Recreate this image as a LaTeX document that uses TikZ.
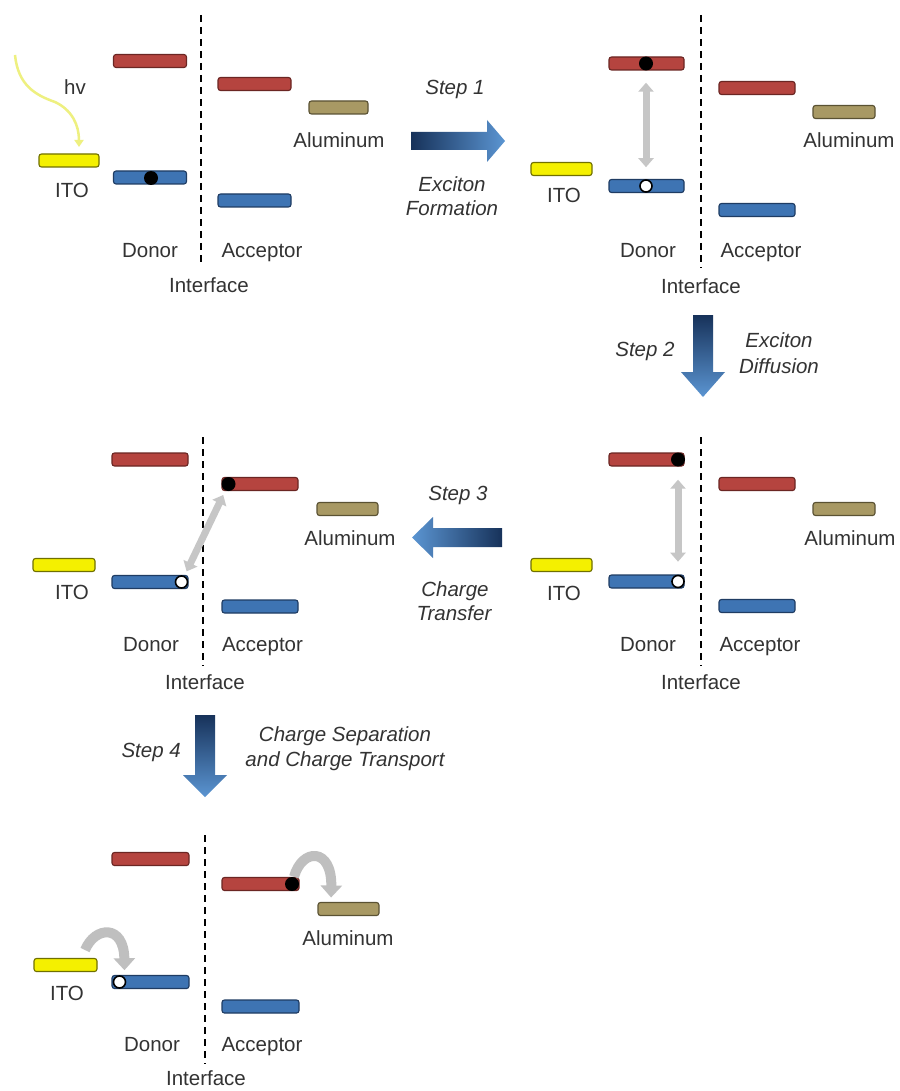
\documentclass[tikz,border=0pt]{standalone}
\usepackage{fontspec}
\setmainfont{Liberation Sans}
\usetikzlibrary{arrows.meta}
\definecolor{lumoF}{HTML}{B5443F}
\definecolor{lumoD}{HTML}{6B2623}
\definecolor{homoF}{HTML}{3E74B3}
\definecolor{homoD}{HTML}{1F3C63}
\definecolor{aluF}{HTML}{A89964}
\definecolor{aluD}{HTML}{5A5233}
\definecolor{itoF}{HTML}{F4F000}
\definecolor{itoD}{HTML}{707000}
\definecolor{txt}{HTML}{333333}
\definecolor{arrDark}{HTML}{17325A}
\definecolor{arrLight}{HTML}{5B95D2}
\definecolor{hvC}{HTML}{EEF080}
\begin{document}
\begin{tikzpicture}[x=1pt,y=-1pt,
 bar/.style={draw, rounded corners=2.5pt, line width=1.1pt, minimum height=13pt, inner sep=0pt, outer sep=0pt},
 lumo/.style={bar, fill=lumoF, draw=lumoD},
 homo/.style={bar, fill=homoF, draw=homoD},
 alu/.style={bar, fill=aluF, draw=aluD},
 ito/.style={bar, fill=itoF, draw=itoD},
 lbl/.style={anchor=base, inner sep=0pt, text=txt, font=\fontsize{20.5}{24}\selectfont},
 steplbl/.style={anchor=base, inner sep=0pt, text=txt, font=\fontsize{20.5}{24}\selectfont\itshape},
 electron/.style={circle, fill=black, minimum size=14pt, inner sep=0pt},
 hole/.style={circle, fill=white, draw=black, line width=1.6pt, minimum size=12pt, inner sep=0pt},
 iface/.style={draw=black, line width=2.2pt, dash pattern=on 7pt off 5pt},
 dbl/.style={draw=gray!45, line width=7pt, {Triangle[width=15pt,length=9pt]}-{Triangle[width=15pt,length=9pt]}},
 curv/.style={draw=gray!50, line width=10pt, -{Triangle[width=21pt,length=12pt]}},
 hvarrow/.style={draw=hvC, line width=2.5pt, -{Triangle[width=9pt,length=7pt]}}
]
\fill[white] (0,0) rectangle (899,1091);
\useasboundingbox (0,0) rectangle (899,1091);

%% ---------------- Panel 1 ----------------
\coordinate (p1it) at (201,15); \coordinate (p1ib) at (201,262);
\draw[iface] (p1it) -- (p1ib);
\node[lumo, minimum width=73pt] (p1dl) at (150,61) {};
\node[lumo, minimum width=73pt] (p1al) at (254.5,84) {};
\node[alu, minimum width=59pt] (p1alu) at (338.5,107.5) {};
\node[ito, minimum width=60pt] (p1ito) at (69,160.5) {};
\node[homo, minimum width=73pt] (p1dh) at (150,177.5) {};
\node[homo, minimum width=73pt] (p1ah) at (254.5,200.5) {};
\node[electron] (p1e) at (151,178) {};
\node[lbl] (p1alut) at (339,148) {Aluminum};
\node[lbl] (p1itot) at (72,198) {ITO};
\node[lbl] (p1don) at (150,257) {Donor};
\node[lbl] (p1acc) at (262,257) {Acceptor};
\node[lbl] (p1int) at (209,292) {Interface};
\node[lbl] (hv) at (75,95) {hv};
\coordinate (hvs) at (15,55);
\draw[hvarrow, shorten >=7pt] (hvs) .. controls (18,85) and (35,95) .. (55,102) .. controls (72,110) and (79,125) .. (p1ito.north -| 79,0);

%% Step 1
\shade[left color=arrDark, right color=arrLight] (411,132) -- (487,132) -- (487,120) -- (505,141) -- (487,162) -- (487,150) -- (411,150) -- cycle;
\node[steplbl] (s1) at (455,95) {Step 1};
\node[steplbl] (s1a) at (452,192) {Exciton};
\node[steplbl] (s1b) at (452,216) {Formation};

%% ---------------- Panel 2 ----------------
\coordinate (p2it) at (701,15); \coordinate (p2ib) at (701,268);
\draw[iface] (p2it) -- (p2ib);
\node[lumo, minimum width=75pt] (p2dl) at (646.5,63.5) {};
\node[lumo, minimum width=76pt] (p2al) at (757,88) {};
\node[alu, minimum width=62pt] (p2alu) at (844,112) {};
\node[ito, minimum width=61pt] (p2ito) at (561.5,169) {};
\node[homo, minimum width=75pt] (p2dh) at (646.5,186) {};
\node[homo, minimum width=76pt] (p2ah) at (757,210) {};
\node[electron] (p2e) at (646,63.5) {};
\node[hole] (p2h) at (646,186) {};
\draw[dbl, shorten <=12pt, shorten >=12pt] (p2e) -- (p2h);
\node[lbl] (p2alut) at (849,148) {Aluminum};
\node[lbl] (p2itot) at (564,203) {ITO};
\node[lbl] (p2don) at (648,258) {Donor};
\node[lbl] (p2acc) at (761,258) {Acceptor};
\node[lbl] (p2int) at (701,293) {Interface};

%% Step 2
\shade[top color=arrDark, bottom color=arrLight] (693,315) -- (713,315) -- (713,372) -- (725,372) -- (703,397) -- (681,372) -- (693,372) -- cycle;
\node[steplbl] (s2) at (645,356) {Step 2};
\node[steplbl] (s2a) at (779,347) {Exciton};
\node[steplbl] (s2b) at (779,373) {Diffusion};

%% ---------------- Panel 4 (middle right) ----------------
\coordinate (p4it) at (701,437); \coordinate (p4ib) at (701,666);
\draw[iface] (p4it) -- (p4ib);
\node[lumo, minimum width=75pt] (p4dl) at (646.5,459.5) {};
\node[lumo, minimum width=76pt] (p4al) at (757,484) {};
\node[alu, minimum width=62pt] (p4alu) at (844,509) {};
\node[ito, minimum width=61pt] (p4ito) at (561.5,565) {};
\node[homo, minimum width=75pt] (p4dh) at (646.5,581.5) {};
\node[homo, minimum width=76pt] (p4ah) at (757,606) {};
\node[electron] (p4e) at (678,459.5) {};
\node[hole] (p4h) at (678,581.5) {};
\draw[dbl, shorten <=13pt, shorten >=13pt] (p4e) -- (p4h);
\node[lbl] (p4alut) at (850,545) {Aluminum};
\node[lbl] (p4itot) at (564,600) {ITO};
\node[lbl] (p4don) at (648,651) {Donor};
\node[lbl] (p4acc) at (760,651) {Acceptor};
\node[lbl] (p4int) at (701,689) {Interface};

%% Step 3
\shade[left color=arrLight, right color=arrDark] (502,528) -- (433,528) -- (433,517) -- (412,537.5) -- (433,558) -- (433,547) -- (502,547) -- cycle;
\node[steplbl] (s3) at (458,500) {Step 3};
\node[steplbl] (s3a) at (455,596) {Charge};
\node[steplbl] (s3b) at (454,620) {Transfer};

%% ---------------- Panel 3 (middle left) ----------------
\coordinate (p3it) at (203,437); \coordinate (p3ib) at (203,666);
\draw[iface] (p3it) -- (p3ib);
\node[lumo, minimum width=76pt] (p3dl) at (150,459.5) {};
\node[lumo, minimum width=76pt] (p3al) at (260,484) {};
\node[alu, minimum width=61pt] (p3alu) at (347.5,509) {};
\node[ito, minimum width=62pt] (p3ito) at (64,565) {};
\node[homo, minimum width=76pt] (p3dh) at (150,582) {};
\node[homo, minimum width=76pt] (p3ah) at (260,606.5) {};
\node[electron] (p3e) at (228.5,484) {};
\node[hole] (p3h) at (181.5,582) {};
\draw[dbl, shorten <=5pt, shorten >=5pt] (p3h) -- (p3e);
\node[lbl] (p3alut) at (350,545) {Aluminum};
\node[lbl] (p3itot) at (72,599) {ITO};
\node[lbl] (p3don) at (151,651) {Donor};
\node[lbl] (p3acc) at (262.5,651) {Acceptor};
\node[lbl] (p3int) at (205,689) {Interface};

%% Step 4
\shade[top color=arrDark, bottom color=arrLight] (195,715) -- (215,715) -- (215,775) -- (227,775) -- (205,797) -- (183,775) -- (195,775) -- cycle;
\node[steplbl, anchor=base east] (s4) at (181,757) {Step 4};
\node[steplbl] (s4a) at (345,741) {Charge Separation};
\node[steplbl] (s4b) at (345,766) {and Charge Transport};

%% ---------------- Panel 5 (bottom) ----------------
\coordinate (p5it) at (205,835); \coordinate (p5ib) at (205,1064);
\draw[iface] (p5it) -- (p5ib);
\node[lumo, minimum width=77pt] (p5dl) at (150.5,859) {};
\node[lumo, minimum width=77pt] (p5al) at (260.5,884) {};
\node[alu, minimum width=61pt] (p5alu) at (348.5,909) {};
\node[ito, minimum width=63pt] (p5ito) at (65.5,965) {};
\node[homo, minimum width=77pt] (p5dh) at (150.5,982) {};
\node[homo, minimum width=77pt] (p5ah) at (260.5,1006.5) {};
\node[electron] (p5e) at (292,884) {};
\node[hole] (p5h) at (119.5,982) {};
\coordinate (c1s) at (85,950);
\draw[curv, shorten >=5pt] (c1s) .. controls (95,926) and (124,924) .. ([xshift=5pt]p5h.north);
\draw[curv, shorten >=5pt] ([xshift=2pt]p5e.north) .. controls (302,848) and (332,847) .. (p5alu.north -| 331,0);
\node[lbl] (p5alut) at (348,945) {Aluminum};
\node[lbl] (p5itot) at (67,1000) {ITO};
\node[lbl] (p5don) at (152,1051) {Donor};
\node[lbl] (p5acc) at (262,1051) {Acceptor};
\node[lbl] (p5int) at (206,1085) {Interface};
\end{tikzpicture}
\end{document}
